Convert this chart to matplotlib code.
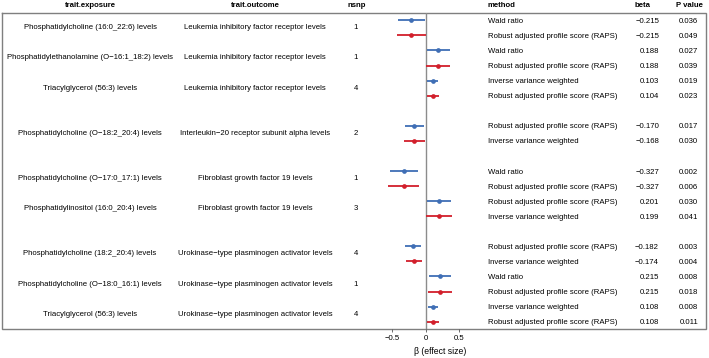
import matplotlib
matplotlib.use("Agg")
import matplotlib.pyplot as plt

plt.rcParams['font.family'] = ['Liberation Sans', 'DejaVu Sans']

# one entry per exposure/outcome row (each row holds two estimates)
exposures = [
    "Phosphatidylcholine (16:0_22:6) levels",
    "Phosphatidylethanolamine (O\u221216:1_18:2) levels",
    "Triacylglycerol (56:3) levels",
    "Phosphatidylcholine (O\u221218:2_20:4) levels",
    "Phosphatidylcholine (O\u221217:0_17:1) levels",
    "Phosphatidylinositol (16:0_20:4) levels",
    "Phosphatidylcholine (18:2_20:4) levels",
    "Phosphatidylcholine (O\u221218:0_16:1) levels",
    "Triacylglycerol (56:3) levels",
]
outcomes = [
    "Leukemia inhibitory factor receptor levels",
    "Leukemia inhibitory factor receptor levels",
    "Leukemia inhibitory factor receptor levels",
    "Interleukin\u221220 receptor subunit alpha levels",
    "Fibroblast growth factor 19 levels",
    "Fibroblast growth factor 19 levels",
    "Urokinase\u2212type plasminogen activator levels",
    "Urokinase\u2212type plasminogen activator levels",
    "Urokinase\u2212type plasminogen activator levels",
]
nsnp = [1, 1, 4, 2, 1, 3, 4, 1, 4]
blank_after = [2, 3, 5]   # empty spacer line after these rows

# two estimates per row, in order
methods = [
    "Wald ratio", "Robust adjusted profile score (RAPS)",
    "Wald ratio", "Robust adjusted profile score (RAPS)",
    "Inverse variance weighted", "Robust adjusted profile score (RAPS)",
    "Robust adjusted profile score (RAPS)", "Inverse variance weighted",
    "Wald ratio", "Robust adjusted profile score (RAPS)",
    "Robust adjusted profile score (RAPS)", "Inverse variance weighted",
    "Robust adjusted profile score (RAPS)", "Inverse variance weighted",
    "Wald ratio", "Robust adjusted profile score (RAPS)",
    "Inverse variance weighted", "Robust adjusted profile score (RAPS)",
]
beta = [-0.215, -0.215, 0.188, 0.188, 0.103, 0.104,
        -0.170, -0.168, -0.327, -0.327, 0.201, 0.199,
        -0.182, -0.174, 0.215, 0.215, 0.108, 0.108]
pval = ["0.036", "0.049", "0.027", "0.039", "0.019", "0.023",
        "0.017", "0.030", "0.002", "0.006", "0.030", "0.041",
        "0.003", "0.004", "0.008", "0.018", "0.008", "0.011"]
ci_low = [-0.416, -0.429, 0.021, 0.010, 0.017, 0.014,
          -0.310, -0.320, -0.534, -0.560, 0.019, 0.008,
          -0.302, -0.293, 0.056, 0.037, 0.028, 0.025]
ci_high = [-0.014, -0.001, 0.355, 0.367, 0.189, 0.194,
           -0.030, -0.016, -0.120, -0.094, 0.383, 0.390,
           -0.062, -0.056, 0.374, 0.393, 0.188, 0.191]

colors = ["#3f6eb5", "#d21f2b"]
FS = 5.6

W, H = 709, 358
top, step = 20.3, 15.07     # pixel centre of first text line, line height

fig = plt.figure(figsize=(W / 100, H / 100), dpi=100)
bg = fig.add_axes([0, 0, 1, 1])
bg.set_xlim(0, W)
bg.set_ylim(H, 0)
bg.axis('off')

# line index for every estimate
lines = []
k = 0
for i in range(len(exposures)):
    lines.append(k)
    lines.append(k + 1)
    k += 2
    if i in blank_after:
        k += 1
n_lines = k

def ypix(idx):
    return top + step * idx

box_top = ypix(-0.5)
box_bot = ypix(n_lines - 0.5)

# header
hy = 5.5
bg.text(90, hy, "trait.exposure", ha='center', va='center', fontsize=FS, fontweight='bold')
bg.text(255, hy, "trait.outcome", ha='center', va='center', fontsize=FS, fontweight='bold')
bg.text(357, hy, "nsnp", ha='center', va='center', fontsize=FS, fontweight='bold')
bg.text(488, hy, "method", ha='left', va='center', fontsize=FS, fontweight='bold')
bg.text(643, hy, "beta", ha='center', va='center', fontsize=FS, fontweight='bold')
bg.text(689, hy, "P value", ha='center', va='center', fontsize=FS, fontweight='bold')

# frame
bg.plot([2, 706, 706, 2, 2], [box_top, box_top, box_bot, box_bot, box_top],
        color='#7f7f7f', lw=1.0, solid_joinstyle='miter')

# left table columns
for i in range(len(exposures)):
    yc = (ypix(lines[2 * i]) + ypix(lines[2 * i + 1])) / 2
    bg.text(90, yc, exposures[i], ha='center', va='center', fontsize=FS)
    bg.text(255, yc, outcomes[i], ha='center', va='center', fontsize=FS)
    bg.text(356, yc, str(nsnp[i]), ha='center', va='center', fontsize=FS)

# right table columns
for j in range(len(methods)):
    y = ypix(lines[j]) + 1
    bg.text(488, y, methods[j], ha='left', va='center', fontsize=FS)
    bg.text(659, y, f"{beta[j]:.3f}".replace("-", "\u2212"), ha='right', va='center', fontsize=FS)
    bg.text(698, y, pval[j], ha='right', va='center', fontsize=FS)

# forest column
x0px, x1px = 375.2, 479.5
xmin, xmax = -0.75, 0.8
ax = fig.add_axes([x0px / W, (H - box_bot) / H, (x1px - x0px) / W, (box_bot - box_top) / H])
ax.set_facecolor('none')
ax.set_xlim(xmin, xmax)
ax.set_ylim(n_lines - 0.5, -0.5)
for s in ['top', 'right', 'left']:
    ax.spines[s].set_visible(False)
ax.spines['bottom'].set_visible(False)
ax.set_yticks([])
ax.set_xticks([-0.5, 0, 0.5])
ax.set_xticklabels(["\u22120.5", "0", "0.5"])
ax.tick_params(axis='x', length=2.5, width=0.6, color='#555555', labelsize=FS, pad=2)
ax.set_xlabel("\u03b2 (effect size)", fontsize=FS + 0.6, labelpad=1)
ax.xaxis.set_label_coords((440 - x0px) / (x1px - x0px), -0.055)

ax.axvline(0, color='#8c8c8c', lw=1.0, zorder=1)
for j in range(len(beta)):
    c = colors[j % 2]
    ax.plot([ci_low[j], ci_high[j]], [lines[j], lines[j]], color=c, lw=1.3,
            solid_capstyle='butt', zorder=2)
    ax.plot(beta[j], lines[j], 'o', color=c, markersize=3.4, markeredgewidth=0, zorder=3)

fig.savefig("out.png", dpi=100)
